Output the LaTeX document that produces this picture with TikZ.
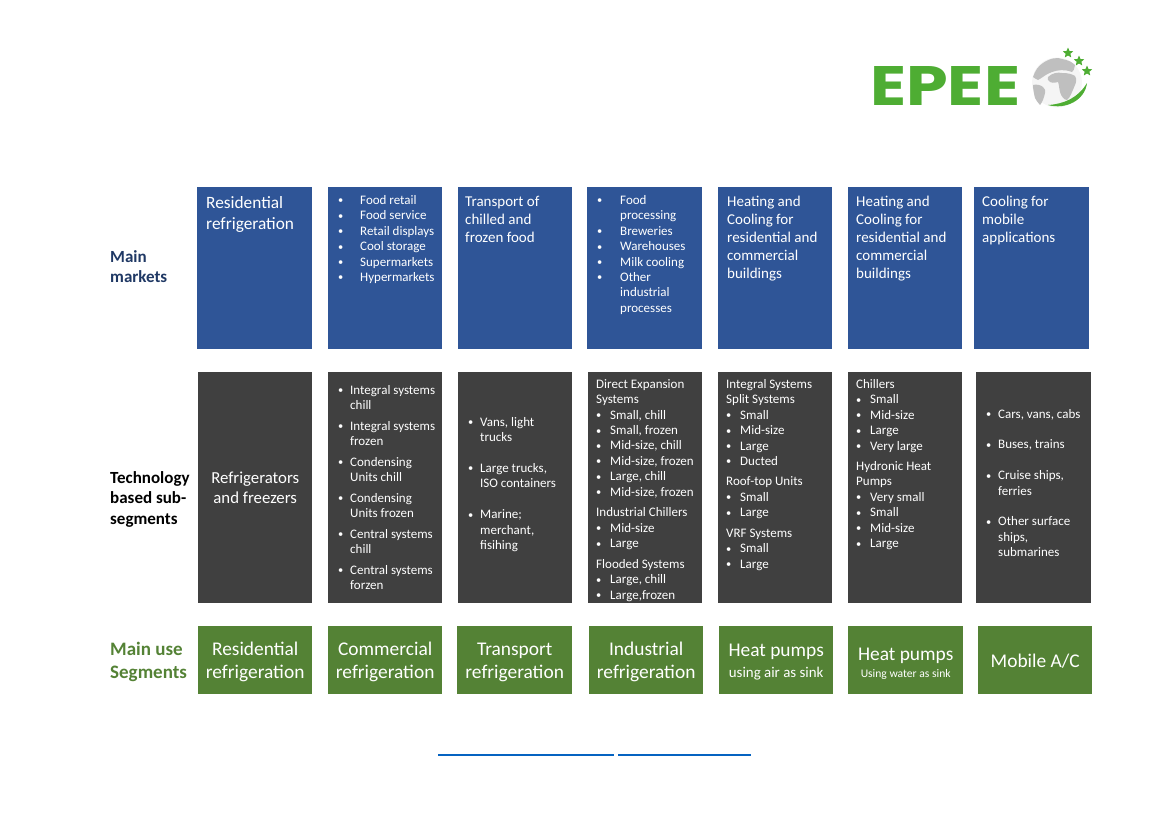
\documentclass[tikz,border=0pt]{standalone}
\usepackage{fontspec}
\setmainfont{Carlito}
\usetikzlibrary{shapes.geometric}
\newfontfamily\logofont{Poppins}

\newcommand{\itm}[1]{\makebox[12pt][l]{\raisebox{0.5pt}{\scalebox{0.8}{\textbullet}}}#1}
\newcommand{\itmw}[1]{\makebox[22pt][l]{\raisebox{0.5pt}{\scalebox{0.8}{\textbullet}}}#1}
\newcommand{\cnt}[1]{\hspace*{12pt}#1}

\begin{document}
\begin{tikzpicture}[x=1pt,y=-1pt]

\definecolor{marketBlue}{HTML}{2F5597}
\definecolor{techGrey}{HTML}{404040}
\definecolor{useGreen}{HTML}{548235}
\definecolor{logoGreen}{HTML}{4EAD33}
\definecolor{headBlue}{HTML}{1F3864}
\definecolor{ruleBlue}{HTML}{0563C1}

\tikzstyle{box}=[rectangle,anchor=north west,inner sep=0pt,text=white,align=center]
\tikzstyle{marketBox}=[box,fill=marketBlue,minimum width=115pt,minimum height=162pt]
\tikzstyle{techBox}=[box,fill=techGrey,minimum width=114pt,minimum height=231pt]
\tikzstyle{useBox}=[box,fill=useGreen,minimum width=114pt,minimum height=68pt]
\tikzstyle{bigText}=[anchor=north west,inner sep=0pt,text=white,align=left,font=\fontsize{15}{18}\selectfont]
\tikzstyle{smallText}=[anchor=north west,inner sep=0pt,text=white,align=left,font=\fontsize{13}{15.45}\selectfont]
\tikzstyle{head}=[anchor=north west,inner sep=0pt,align=left,font=\fontsize{17}{20.7}\selectfont\bfseries]
\tikzstyle{useText}=[inner sep=0pt,text=white,align=center,yshift=-2pt,font=\fontsize{19.4}{23}\selectfont]
\tikzstyle{logoStar}=[star,star points=5,star point ratio=2.2,fill=logoGreen,inner sep=0pt,minimum size=11pt]

\useasboundingbox (0,0) rectangle (1169,827);

%Logo
\node[anchor=north west,inner sep=0pt,text=logoGreen] (logoText) at (870,66) {\logofont\bfseries\resizebox{150pt}{39pt}{EPEE}};
\fill[gray!8] (1057,82.5) circle (25);
\node[inner sep=0pt] (logoGlobe) at (1057,82.5) {};
\fill[gray!50] (1043,63) .. controls (1050,58) and (1058,57) .. (1062,59) .. controls (1068,60) and (1072,62) .. (1075,65) .. controls (1074,69) and (1074,71) .. (1072,72) .. controls (1064,69) and (1058,70) .. (1052,72) .. controls (1046,74) and (1042,78) .. (1038,80) .. controls (1036,79) and (1034,78) .. (1033,77) .. controls (1035,71) and (1038,66) .. (1043,63);
\fill[gray!50] (1048,77) .. controls (1052,73) and (1058,72) .. (1062,73) .. controls (1068,73) and (1072,74) .. (1075,76) .. controls (1077,79) and (1076,83) .. (1075,85) .. controls (1072,92) and (1070,98) .. (1067,100) .. controls (1064,100) and (1061,96) .. (1060,92) .. controls (1059,88) and (1059,84) .. (1058,82) .. controls (1054,83) and (1051,83) .. (1050,82) .. controls (1048,81) and (1047,79) .. (1048,77);
\fill[gray!50] (1033,85) .. controls (1036,84) and (1041,85) .. (1043,87) .. controls (1045,89) and (1046,91) .. (1045,93) .. controls (1044,98) and (1042,103) .. (1040,105) .. controls (1038,103) and (1036,100) .. (1035,98) .. controls (1034,94) and (1033,89) .. (1033,85);
\fill[logoGreen] (1087,83) .. controls (1085,100) and (1066,110) .. (1048,105) .. controls (1064,104) and (1078,98) .. (1087,83);
\node[logoStar] (logoStarA) at (1068,53) {};
\node[logoStar] (logoStarB) at (1079,61) {};
\node[logoStar] (logoStarC) at (1087,71) {};

%Row heads
\node[head,text=headBlue] (headMarkets) at (110,250) {Main\\markets};
\node[head,text=black] (headTech) at (110,471) {Technology\\based sub-\\segments};
\node[head,text=useGreen,font=\fontsize{19}{23}\selectfont\bfseries] (headUse) at (110,642) {Main use\\Segments};

%Main markets
\node[marketBox] (mkResidential) at (197,187) {};
\node[marketBox,minimum width=114pt] (mkCommercial) at (328,187) {};
\node[marketBox,minimum width=114pt] (mkTransport) at (458,187) {};
\node[marketBox] (mkIndustrial) at (587,187) {};
\node[marketBox,minimum width=114pt] (mkHeatAir) at (718,187) {};
\node[marketBox,minimum width=114pt] (mkHeatWater) at (848,187) {};
\node[marketBox] (mkMobile) at (974,187) {};

\node[bigText,font=\fontsize{17.3}{21.5}\selectfont] (mkResidentialText) at (206,196) {Residential\\refrigeration};
\node[smallText] (mkCommercialText) at (338,195) {\itmw{Food retail}\\\itmw{Food service}\\\itmw{Retail displays}\\\itmw{Cool storage}\\\itmw{Supermarkets}\\\itmw{Hypermarkets}};
\node[bigText] (mkTransportText) at (465,196) {Transport of\\chilled and\\frozen food};
\node[smallText] (mkIndustrialText) at (597,195) {\itmw{\hspace*{1pt}Food}\\\hspace*{23pt}processing\\\itmw{\hspace*{1pt}Breweries}\\\itmw{\hspace*{1pt}Warehouses}\\\itmw{\hspace*{1pt}Milk cooling}\\\itmw{\hspace*{1pt}Other}\\\hspace*{23pt}industrial\\\hspace*{23pt}processes};
\node[bigText] (mkHeatAirText) at (727,196) {Heating and\\Cooling for\\residential and\\commercial\\buildings};
\node[bigText] (mkHeatWaterText) at (856,196) {Heating and\\Cooling for\\residential and\\commercial\\buildings};
\node[bigText] (mkMobileText) at (982,196) {Cooling for\\mobile\\applications};

%Technology based sub-segments
\node[techBox,font=\fontsize{16.8}{20.5}\selectfont] (techResidential) at (198,372) {Refrigerators\\and freezers};
\node[techBox] (techCommercial) at (328,372) {};
\node[techBox] (techTransport) at (458,372) {};
\node[techBox] (techIndustrial) at (588,372) {};
\node[techBox] (techHeatAir) at (718,372) {};
\node[techBox] (techHeatWater) at (848,372) {};
\node[techBox,minimum width=115pt] (techMobile) at (976,372) {};

\node[smallText] (techCommercialText) at (338,385) {\itm{Integral systems}\\\cnt{chill}\\[5.1pt]\itm{Integral systems}\\\cnt{frozen}\\[5.1pt]\itm{Condensing}\\\cnt{Units chill}\\[5.1pt]\itm{Condensing}\\\cnt{Units frozen}\\[5.1pt]\itm{Central systems}\\\cnt{chill}\\[5.1pt]\itm{Central systems}\\\cnt{forzen}};
\node[smallText] (techTransportText) at (468,417) {\itm{Vans, light}\\\cnt{trucks}\\[15.3pt]\itm{Large trucks,}\\\cnt{ISO containers}\\[15.3pt]\itm{Marine;}\\\cnt{merchant,}\\\cnt{fisihing}};
\node[smallText] (techIndustrialText) at (596,379) {Direct Expansion\\Systems\\\itm{\hspace*{2pt}Small, chill}\\\itm{\hspace*{2pt}Small, frozen}\\\itm{\hspace*{2pt}Mid-size, chill}\\\itm{\hspace*{2pt}Mid-size, frozen}\\\itm{\hspace*{2pt}Large, chill}\\\itm{\hspace*{2pt}Mid-size, frozen}\\[5pt]Industrial Chillers\\\itm{\hspace*{2pt}Mid-size}\\\itm{\hspace*{2pt}Large}\\[5pt]Flooded Systems\\\itm{\hspace*{2pt}Large, chill}\\\itm{\hspace*{2pt}Large,frozen}};
\node[smallText] (techHeatAirText) at (726,379) {Integral Systems\\Split Systems\\\itm{\hspace*{2pt}Small}\\\itm{\hspace*{2pt}Mid-size}\\\itm{\hspace*{2pt}Large}\\\itm{\hspace*{2pt}Ducted}\\[5pt]Roof-top Units\\\itm{\hspace*{2pt}Small}\\\itm{\hspace*{2pt}Large}\\[5pt]VRF Systems\\\itm{\hspace*{2pt}Small}\\\itm{\hspace*{2pt}Large}};
\node[smallText] (techHeatWaterText) at (856,379) {Chillers\\\itm{\hspace*{2pt}Small}\\\itm{\hspace*{2pt}Mid-size}\\\itm{\hspace*{2pt}Large}\\\itm{\hspace*{2pt}Very large}\\[5pt]Hydronic Heat\\Pumps\\\itm{\hspace*{2pt}Very small}\\\itm{\hspace*{2pt}Small}\\\itm{\hspace*{2pt}Mid-size}\\\itm{\hspace*{2pt}Large}};
\node[smallText] (techMobileText) at (986,409) {\itm{Cars, vans, cabs}\\[15.3pt]\itm{Buses, trains}\\[15.3pt]\itm{Cruise ships,}\\\cnt{ferries}\\[15.3pt]\itm{Other surface}\\\cnt{ships,}\\\cnt{submarines}};

%Main use segments
\node[useBox] (useResidential) at (198,626) {};
\node[useBox] (useCommercial) at (328,626) {};
\node[useBox,minimum width=115pt] (useTransport) at (457,626) {};
\node[useBox] (useIndustrial) at (589,626) {};
\node[useBox] (useHeatAir) at (719,626) {};
\node[useBox,minimum width=115pt] (useHeatWater) at (848,626) {};
\node[useBox] (useMobile) at (978,626) {};

\node[useText] (useResidentialText) at (useResidential.center) {Residential\\refrigeration};
\node[useText] (useCommercialText) at (useCommercial.center) {Commercial\\refrigeration};
\node[useText] (useTransportText) at (useTransport.center) {Transport\\refrigeration};
\node[useText] (useIndustrialText) at (useIndustrial.center) {Industrial\\refrigeration};
\node[useText] (useHeatAirText) at (useHeatAir.center) {Heat pumps\\[-2pt]{\fontsize{14.9}{17}\selectfont using air as sink}};
\node[useText,yshift=-1.5pt] (useHeatWaterText) at (useHeatWater.center) {Heat pumps\\[-6pt]{\fontsize{11.6}{14}\selectfont Using water as sink}};
\node[useText,yshift=1pt] (useMobileText) at (useMobile.center) {Mobile A/C};

%Link rules
\coordinate (ruleA) at (438,755);
\coordinate (ruleB) at (614,755);
\coordinate (ruleC) at (618,755);
\coordinate (ruleD) at (751,755);
\draw[line width=1.3pt,ruleBlue] (ruleA) -- (ruleB);
\draw[line width=1.3pt,ruleBlue] (ruleC) -- (ruleD);

\end{tikzpicture}
\end{document}
